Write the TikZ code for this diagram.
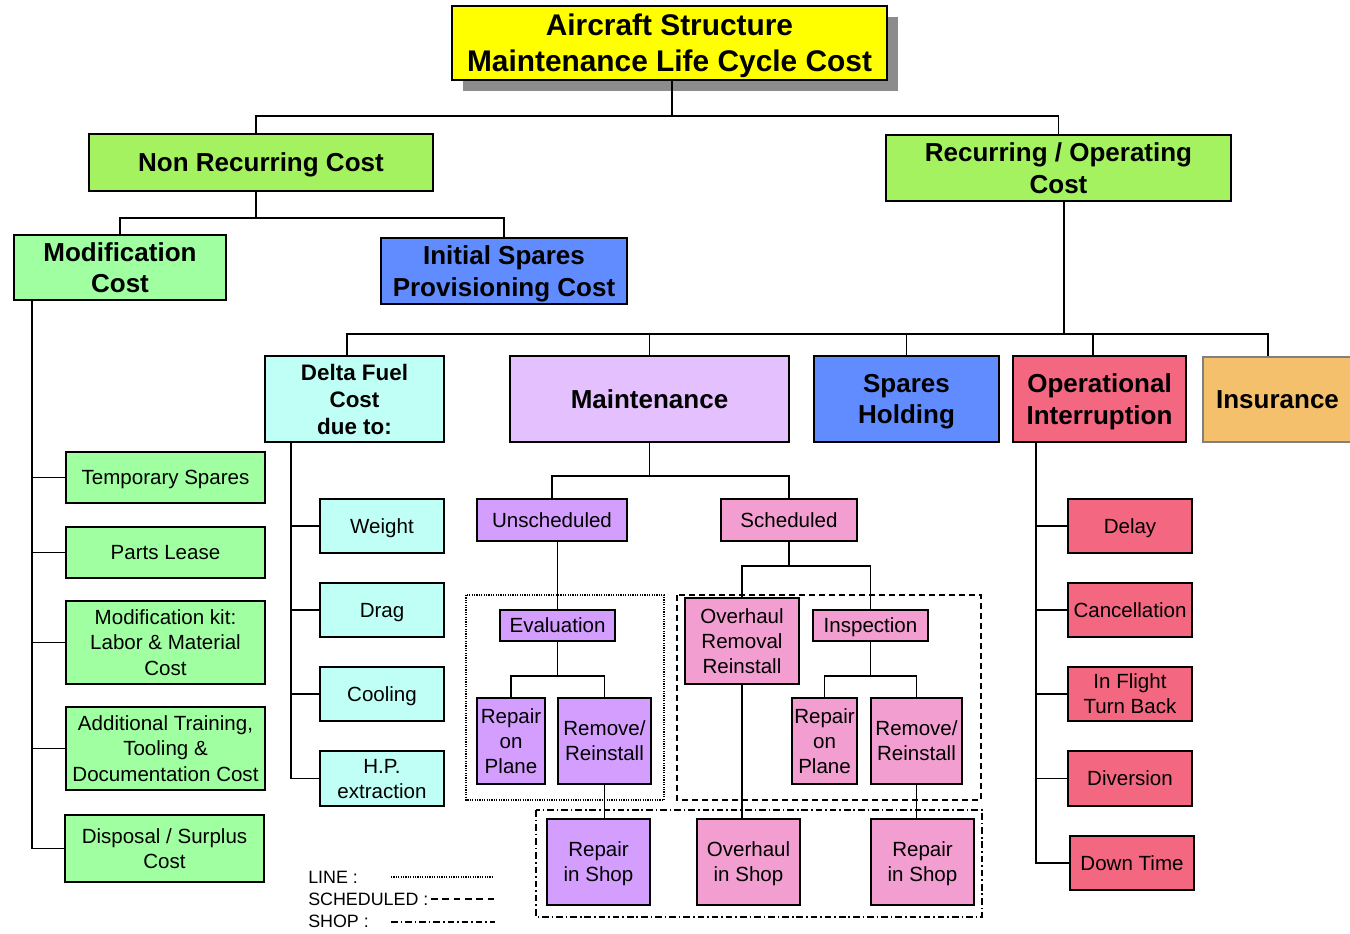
\documentclass[tikz,border=0pt]{standalone}
\usepackage{fontspec}
\setmainfont{Liberation Sans}
\usetikzlibrary{shadows}

\definecolor{titleyellow}{RGB}{255,255,0}
\definecolor{shadowgray}{RGB}{140,140,140}
\definecolor{limegreen}{RGB}{164,242,96}
\definecolor{palegreen}{RGB}{160,255,160}
\definecolor{sparesblue}{RGB}{96,140,255}
\definecolor{fuelcyan}{RGB}{192,255,246}
\definecolor{maintlilac}{RGB}{228,192,255}
\definecolor{unschviolet}{RGB}{212,158,255}
\definecolor{schedpink}{RGB}{242,158,208}
\definecolor{opred}{RGB}{244,103,128}
\definecolor{insorange}{RGB}{244,192,108}

\newcommand{\txtnorm}{\fontsize{15.4}{18.8}\selectfont}
\newcommand{\txtbig}{\fontsize{19.5}{23.5}\selectfont\bfseries}
\newcommand{\txtmid}{\fontsize{16.8}{20.3}\selectfont\bfseries}
\newcommand{\txttitle}{\fontsize{22.4}{27}\selectfont\bfseries}
\newcommand{\txtlegend}{\fontsize{13.4}{16}\selectfont}

\begin{document}
\begin{tikzpicture}[x=0.75pt,y=-0.75pt,
    box/.style={draw, line width=1.35pt, align=center, inner sep=1pt, text depth=0pt},
    wh/.style 2 args={minimum width=#1*0.75pt, minimum height=#2*0.75pt},
    leaf/.style={box, font=\txtnorm},
    head/.style={box, font=\txtbig},
    link/.style={line width=1.35pt},
    lineframe/.style={line width=0.8pt, dash pattern=on 0.9pt off 0.9pt},
    schedframe/.style={line width=0.9pt, dash pattern=on 4.5pt off 3pt},
    shopframe/.style={line width=0.9pt, dash pattern=on 5pt off 2.2pt on 1.2pt off 2.2pt}]
    \useasboundingbox (0,0) rectangle (1350,933);

    \node[box, wh={435}{74}, fill=titleyellow, font=\txttitle,
        drop shadow={shadow xshift=8.25pt, shadow yshift=-8.25pt, fill=shadowgray, opacity=1}]
        (top) at (669.5,43) {Aircraft Structure\\Maintenance Life Cycle Cost};

    \node[head, wh={344}{57}, fill=limegreen] (nonrec) at (261,162.5) {Non Recurring Cost};
    \node[head, wh={345}{66}, fill=limegreen] (recur) at (1058.5,168) {Recurring / Operating\\Cost};
    \node[head, wh={212}{65}, fill=palegreen] (modif) at (120,267.5) {Modification\\Cost};
    \node[head, wh={246}{66}, fill=sparesblue] (provis) at (504,271) {Initial Spares\\Provisioning Cost};

    \node[box, wh={179}{86}, fill=fuelcyan, font=\txtmid] (fuel) at (354.5,399) {Delta Fuel\\Cost\\due to:};
    \node[head, wh={279}{86}, fill=maintlilac] (maint) at (649.5,399) {Maintenance};
    \node[head, wh={185}{86}, fill=sparesblue] (holding) at (906.5,399) {Spares\\Holding};
    \node[head, wh={173}{86}, fill=opred] (opint) at (1099.5,399) {Operational\\Interruption};
    \node[head, wh={149}{85}, fill=insorange, draw=gray] (insur) at (1277.5,399.5) {Insurance};

    \node[leaf, wh={199}{51}, fill=palegreen] (temp) at (165.5,477.5) {Temporary Spares};
    \node[leaf, wh={199}{51}, fill=palegreen] (lease) at (165.5,552.5) {Parts Lease};
    \node[leaf, wh={199}{83}, fill=palegreen] (kit) at (165.5,642.5) {Modification kit:\\Labor \& Material\\Cost};
    \node[leaf, wh={199}{83}, fill=palegreen] (train) at (165.5,748.5) {Additional Training,\\Tooling \&\\Documentation Cost};
    \node[leaf, wh={199}{67}, fill=palegreen] (disp) at (164.5,848.5) {Disposal / Surplus\\Cost};

    \node[leaf, wh={124}{54}, fill=fuelcyan] (weight) at (382,526) {Weight};
    \node[leaf, wh={124}{54}, fill=fuelcyan] (drag) at (382,610) {Drag};
    \node[leaf, wh={124}{54}, fill=fuelcyan] (cool) at (382,694) {Cooling};
    \node[leaf, wh={124}{55}, fill=fuelcyan] (hpx) at (382,778.5) {H.P.\\extraction};

    \node[leaf, wh={150}{42}, fill=unschviolet] (unsched) at (552,520) {Unscheduled};
    \node[leaf, wh={136}{42}, fill=schedpink] (sched) at (789,520) {Scheduled};

    \node[leaf, wh={115}{31}, fill=unschviolet] (eval) at (557.5,625.5) {Evaluation};
    \node[leaf, wh={68}{86}, fill=unschviolet] (plane1) at (511,741) {Repair\\on\\Plane};
    \node[leaf, wh={93}{86}, fill=unschviolet] (remove1) at (604.5,741) {Remove/\\Reinstall};
    \node[leaf, wh={103}{86}, fill=unschviolet] (shop1) at (598.5,862) {Repair\\in Shop};

    \node[leaf, wh={114}{86}, fill=schedpink] (ovremove) at (742,641) {Overhaul\\Removal\\Reinstall};
    \node[leaf, wh={115}{31}, fill=schedpink] (insp) at (870.5,625.5) {Inspection};
    \node[leaf, wh={65}{86}, fill=schedpink] (plane2) at (824.5,741) {Repair\\on\\Plane};
    \node[leaf, wh={91}{86}, fill=schedpink] (remove2) at (916.5,741) {Remove/\\Reinstall};
    \node[leaf, wh={103}{86}, fill=schedpink] (ovshop) at (748.5,862) {Overhaul\\in Shop};
    \node[leaf, wh={103}{86}, fill=schedpink] (shop2) at (922.5,862) {Repair\\in Shop};

    \node[leaf, wh={124}{54}, fill=opred] (delay) at (1130,526) {Delay};
    \node[leaf, wh={124}{54}, fill=opred] (cancel) at (1130,610) {Cancellation};
    \node[leaf, wh={124}{54}, fill=opred] (turnback) at (1130,694) {In Flight\\Turn Back};
    \node[leaf, wh={124}{55}, fill=opred] (divert) at (1130,778.5) {Diversion};
    \node[leaf, wh={124}{54}, fill=opred] (down) at (1132,863) {Down Time};

    \draw[link] ([xshift=1.9pt]top.south) -- ++(0,35) -| ([xshift=-3.75pt]nonrec.north);
    \draw[link] ([xshift=1.9pt]top.south) -- ++(0,35) -| (recur.north);
    \draw[link] ([xshift=-3.75pt]nonrec.south) -- ++(0,26) -| (modif.north);
    \draw[link] ([xshift=-3.75pt]nonrec.south) -- ++(0,26) -| (provis.north);
    \foreach \n/\dx in {fuel/-5.6,maint/0,holding/0,opint/-4.9,insur/-7.1}
        \draw[link] ([xshift=4.1pt]recur.south) -- ++(0,132) -| ([xshift=\dx pt]\n.north);

    \coordinate (modtrunk) at ([xshift=14.25pt]modif.south west);
    \draw[link] (modtrunk) |- (disp.west);
    \foreach \n in {temp,lease,kit,train}
        \draw[link] (modtrunk |- \n.west) -- (\n.west);

    \coordinate (fueltrunk) at ([xshift=20.25pt]fuel.south west);
    \draw[link] (fueltrunk) |- (hpx.west);
    \foreach \n in {weight,drag,cool}
        \draw[link] (fueltrunk |- \n.west) -- (\n.west);

    \coordinate (optrunk) at ([xshift=18pt]opint.south west);
    \draw[link] (optrunk) |- (down.west);
    \foreach \n in {delay,cancel,turnback,divert}
        \draw[link] (optrunk |- \n.west) -- (\n.west);

    \draw[link] (maint.south) -- ++(0,33) -| (unsched.north);
    \draw[link] (maint.south) -- ++(0,33) -| (sched.north);
    \draw[link] (unsched.south -| eval.north) -- (eval.north);
    \draw[link] (eval.south) -- ++(0,34) -| (plane1.north);
    \draw[link] (eval.south) -- ++(0,34) -| (remove1.north);
    \draw[link] (remove1.south) -- (remove1.south |- shop1.north);
    \draw[link] (sched.south) -- ++(0,24) -| (ovremove.north);
    \draw[link] (sched.south) -- ++(0,24) -| (insp.north);
    \draw[link] (insp.south) -- ++(0,34) -| (plane2.north);
    \draw[link] (insp.south) -- ++(0,34) -| (remove2.north);
    \draw[link] (ovremove.south) -- (ovremove.south |- ovshop.north);
    \draw[link] (remove2.south) -- (remove2.south |- shop2.north);

    \draw[lineframe] (466,595) rectangle (664,800);
    \draw[schedframe] (677,595) rectangle (981,800);
    \draw[shopframe] (536,810) rectangle (982,917);

    \node[anchor=west, inner sep=0pt, font=\txtlegend] (legline) at (308,877) {LINE :};
    \node[anchor=west, inner sep=0pt, font=\txtlegend] (legsched) at (308,899) {SCHEDULED :};
    \node[anchor=west, inner sep=0pt, font=\txtlegend] (legshop) at (308,921) {SHOP :};
    \draw[lineframe] (391,877) -- (493,877);
    \draw[schedframe, dash pattern=on 5pt off 3.5pt] (431,899) -- (495,899);
    \draw[shopframe] (391,922) -- (495,922);
\end{tikzpicture}
\end{document}
